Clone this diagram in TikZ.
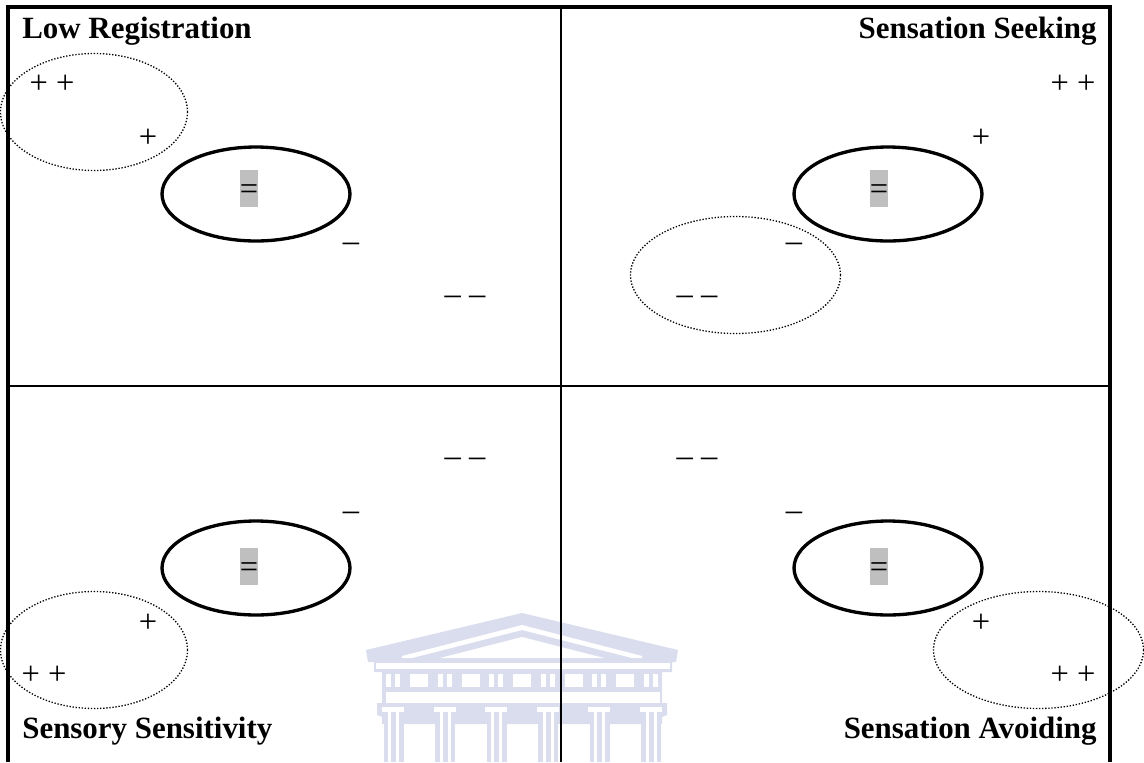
\documentclass[tikz,border=0pt]{standalone}
\usepackage{fontspec}
\setmainfont{Liberation Serif}
\usetikzlibrary{shapes.geometric}
\definecolor{crest}{HTML}{DADDEE}
\definecolor{mark}{HTML}{BFBFBF}
\tikzset{
  core/.style={ellipse,draw,line width=1.9pt,minimum width=3.76cm,minimum height=1.88cm,inner sep=0pt},
  zone/.style={ellipse,draw,densely dotted,line width=.75pt,minimum width=3.74cm,minimum height=2.34cm,inner sep=0pt},
  widezone/.style={zone,minimum width=4.2cm},
  equal/.style={fill=mark,minimum width=.36cm,text height=.59cm,text depth=.15cm,inner sep=0pt,font=\fontsize{18.5}{20}\selectfont},
  sign/.style={anchor=base,inner sep=0pt,font=\fontsize{18.5}{20}\selectfont},
  title/.style={anchor=base,inner sep=0pt,font=\fontsize{17.6}{20}\selectfont\bfseries},
  outer/.style={line width=2.4pt},
  inner/.style={line width=1.3pt}
}
\begin{document}
\begin{tikzpicture}[x=0.02cm,y=-0.02cm]
      \useasboundingbox (0,0) rectangle (1144,762);
      % crest behind the grid
      \begin{scope}
        \fill[crest] (366,650) -- (522,613) -- (678,650) -- (676,662) -- (672,662) -- (672,672)
          -- (662,672) -- (662,703) -- (667,703) -- (667,715) -- (662,717) -- (662,724)
          -- (382,724) -- (382,717) -- (377,715) -- (377,703) -- (382,703) -- (382,672)
          -- (374,672) -- (374,662) -- (368,662) -- cycle;
        \fill[white] (402,656) -- (522,625) -- (642,656) -- (642,658) -- (632,658) -- (522,630) -- (412,658) -- (402,658) -- cycle;
        \fill[white] (440,658) -- (522,637) -- (604,658) -- cycle;
        \fill[white] (376,663) rectangle (670,669);
        \fill[white] (386,692) rectangle (660,703);
        \foreach \k in {0,1,2,3,4}
          \fill[white] (410+51.5*\k,674) rectangle (428+51.5*\k,687);
        \foreach \k in {0,1,2,3,4,5} {
          \fill[white] (386+51.5*\k,674) rectangle (391+51.5*\k,687);
          \fill[white] (395+51.5*\k,674) rectangle (400+51.5*\k,687);
          \fill[white] (382+51.5*\k,707) rectangle (404+51.5*\k,712);
          \fill[white] (388+51.5*\k,712) rectangle (391+51.5*\k,762);
          \fill[white] (396+51.5*\k,712) rectangle (399+51.5*\k,762);
          \fill[crest] (383.5+51.5*\k,724) rectangle (388+51.5*\k,762);
          \fill[crest] (391+51.5*\k,724) rectangle (396+51.5*\k,762);
          \fill[crest] (399+51.5*\k,724) rectangle (403.5+51.5*\k,762);
        }
      \end{scope}
      \draw
        (94,112) node[zone] (lowzone){}
        (735.5,275) node[widezone] (seekzone){}
        (94,650) node[zone] (sensitivezone){}
        (1038.5,650) node[widezone] (avoidzone){};
      \draw
        (256,194) node[core] (lowcore){}
        (888,194) node[core] (seekcore){}
        (256,568) node[core] (sensitivecore){}
        (888,568) node[core] (avoidcore){};
      \draw
        (249,188.5) node[equal] (loweq){=}
        (879,188.5) node[equal] (seekeq){=}
        (249,566.5) node[equal] (sensitiveeq){=}
        (879,566.5) node[equal] (avoideq){=};
      \node[title,anchor=base west] (lowtitle) at (22,38) {Low Registration};
      \node[title,anchor=base east] (seektitle) at (1097,38) {Sensation Seeking};
      \node[title,anchor=base west] (sensitivetitle) at (22,738) {Sensory Sensitivity};
      \node[title,anchor=base east] (avoidtitle) at (1097,738) {Sensation Avoiding};
      \node[sign] (low1) at (52,93) {+ +};
      \node[sign] (low2) at (148,147) {+};
      \node[sign] (low3) at (351,251.5) {–};
      \node[sign] (low4) at (465,304.5) {– –};
      \node[sign] (seek1) at (1073,93) {+ +};
      \node[sign] (seek2) at (981,147) {+};
      \node[sign] (seek3) at (794,251.5) {–};
      \node[sign] (seek4) at (697,304.5) {– –};
      \node[sign] (sensitive1) at (465,466.5) {– –};
      \node[sign] (sensitive2) at (351,520) {–};
      \node[sign] (sensitive3) at (148,632) {+};
      \node[sign] (sensitive4) at (44,684) {+ +};
      \node[sign] (avoid1) at (697,466.5) {– –};
      \node[sign] (avoid2) at (794,520) {–};
      \node[sign] (avoid3) at (981,632) {+};
      \node[sign] (avoid4) at (1073,684) {+ +};
      % grid
      \draw[outer] (8,762) -- (8,7) -- (1110,7) -- (1110,762);
      \begin{scope}[inner]
        \draw (8,386) -- (1110,386);
        \draw (561,7) -- (561,762);
      \end{scope}
    \end{tikzpicture}
\end{document}
